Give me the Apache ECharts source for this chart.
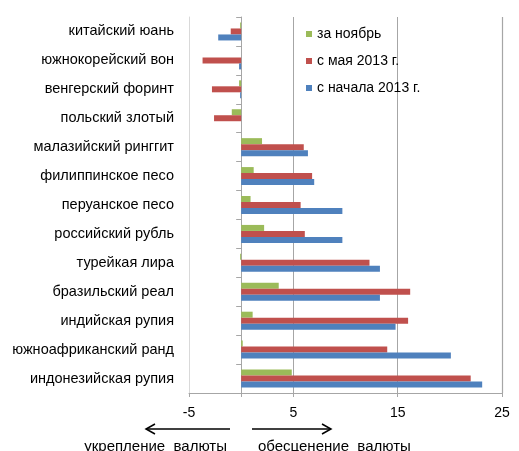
<!DOCTYPE html>
<html>
<head>
<meta charset="utf-8">
<script src="https://cdn.jsdelivr.net/npm/echarts@6/dist/echarts.min.js"></script>
<style>
  html, body { margin: 0; padding: 0; background: #fff; }
  #chart { width: 519px; height: 451px; }
</style>
</head>
<body>
<div id="chart"></div>
<script>
// Currencies, top to bottom
const currencies = [
  'китайский юань', 'южнокорейский вон', 'венгерский форинт', 'польский злотый',
  'малазийский ринггит', 'филиппинское песо', 'перуанское песо', 'российский рубль',
  'турейкая лира', 'бразильский реал', 'индийская рупия', 'южноафриканский ранд',
  'индонезийская рупия'
];
// Change vs. USD, %
const forNovember = [-0.1, 0, -0.2, -0.9, 2.0, 1.2, 0.9, 2.2, -0.1, 3.6, 1.1, 0.15, 4.85];
const sinceMay    = [-1.0, -3.7, -2.8, -2.6, 6.0, 6.8, 5.7, 6.1, 12.3, 16.2, 16.0, 14.0, 22.0];
const sinceJan    = [-2.2, -0.2, -0.1, 0, 6.4, 7.0, 9.7, 9.7, 13.3, 13.3, 14.8, 20.1, 23.1];

const seriesNames = ['за ноябрь', 'с мая 2013 г.', 'с начала 2013 г.'];
const xLabels = [-5, 5, 15, 25];
const xTicks = [-5, 0, 5, 15, 25];
const xMax = 25;

const FONT = '"Liberation Sans", Arial, sans-serif';
const GRID = '#a6a6a6';
const chart = echarts.init(document.getElementById('chart'), null, { renderer: 'canvas' });

const bar = (name, data, color) => ({
  name, type: 'bar', data, barWidth: 6, barGap: '0%',
  itemStyle: { color },
  yAxisIndex: 0
});

const series = [
  bar(seriesNames[0], forNovember, '#9bbb59'),
  bar(seriesNames[1], sinceMay, '#c0504d'),
  bar(seriesNames[2], sinceJan, '#4f81bd')
];
// grid line at the right end of the value axis
series[2].markLine = {
  silent: true, symbol: 'none', animation: false,
  label: { show: false },
  lineStyle: { color: GRID, type: 'solid', width: 1.2 },
  data: [{ xAxis: xMax }]
};

chart.setOption({
  animation: false,
  backgroundColor: '#fff',
  textStyle: { fontFamily: FONT },
  grid: { left: 189, right: 17, top: 17, bottom: 58, containLabel: false },
  legend: {
    orient: 'vertical', left: 301, top: 22, itemGap: 13,
    itemWidth: 6, itemHeight: 6, icon: 'rect',
    textStyle: { fontSize: 14, color: '#000', fontFamily: FONT },
    data: seriesNames
  },
  xAxis: {
    type: 'value', min: -5, max: xMax, interval: 5,
    axisLine: { show: true, lineStyle: { color: GRID } },
    axisTick: { show: true, length: 4, lineStyle: { color: GRID }, customValues: xTicks },
    axisLabel: { fontSize: 14, color: '#000', margin: 13, fontFamily: FONT, customValues: xLabels },
    splitLine: {
      show: true, showMaxLine: true,
      lineStyle: { color: ['#d9d9d9', 'transparent', GRID, GRID, GRID] }
    }
  },
  yAxis: [
    {
      type: 'category', data: currencies, inverse: true, position: 'left',
      axisLine: { show: true, onZero: false, lineStyle: { color: '#d9d9d9' } },
      axisTick: { show: false },
      axisLabel: { fontSize: 14.5, color: '#000', margin: 15, fontFamily: FONT }
    },
    {
      // category axis crossing the value axis at zero
      type: 'category', data: currencies, inverse: true, position: 'left',
      axisLine: { show: true, onZero: true, lineStyle: { color: GRID } },
      axisTick: { show: true, length: 5, lineStyle: { color: GRID } },
      axisLabel: { show: false }
    }
  ],
  series,
  graphic: [
    // direction arrows under the value axis
    { type: 'line', shape: { x1: 146, y1: 429, x2: 230, y2: 429 }, style: { stroke: '#000', lineWidth: 1.5 } },
    { type: 'polyline', shape: { points: [[155, 424], [146, 429], [155, 434]] }, style: { stroke: '#000', lineWidth: 1.5, fill: null } },
    { type: 'line', shape: { x1: 252, y1: 429, x2: 331, y2: 429 }, style: { stroke: '#000', lineWidth: 1.5 } },
    { type: 'polyline', shape: { points: [[322, 424], [331, 429], [322, 434]] }, style: { stroke: '#000', lineWidth: 1.5, fill: null } },
    { type: 'text', style: { text: 'укрепление  валюты', x: 227, y: 447, align: 'right', verticalAlign: 'middle', fontSize: 15, fontFamily: FONT, fill: '#000' } },
    { type: 'text', style: { text: 'обесценение  валюты', x: 258, y: 447, align: 'left', verticalAlign: 'middle', fontSize: 15, fontFamily: FONT, fill: '#000' } }
  ]
});
</script>
</body>
</html>
